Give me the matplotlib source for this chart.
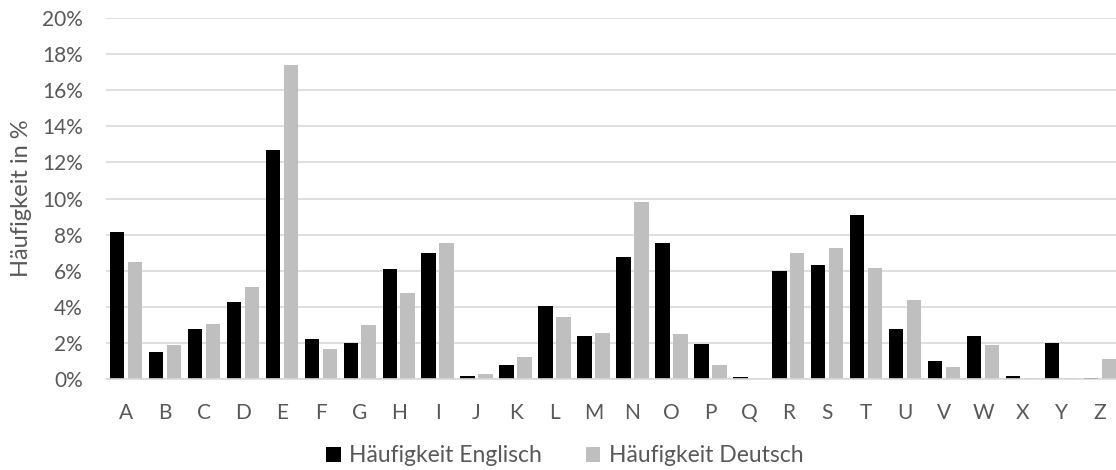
import matplotlib
matplotlib.use("Agg")
import matplotlib.pyplot as plt
import numpy as np
from matplotlib.ticker import FuncFormatter
from matplotlib.patches import Patch

plt.rcParams['font.family'] = ['Lato', 'DejaVu Sans']

letters = list("ABCDEFGHIJKLMNOPQRSTUVWXYZ")
english = [8.17, 1.49, 2.78, 4.25, 12.70, 2.23, 2.02, 6.09, 6.97, 0.15, 0.77, 4.03, 2.41,
           6.75, 7.51, 1.93, 0.10, 5.99, 6.33, 9.06, 2.76, 0.98, 2.36, 0.15, 1.97, 0.07]
german = [6.51, 1.89, 3.06, 5.08, 17.40, 1.66, 3.01, 4.76, 7.55, 0.27, 1.21, 3.44, 2.53,
          9.78, 2.51, 0.79, 0.02, 7.00, 7.27, 6.15, 4.35, 0.67, 1.89, 0.03, 0.04, 1.13]
series_names = ["Häufigkeit Englisch", "Häufigkeit Deutsch"]
y_ticks = [0, 2, 4, 6, 8, 10, 12, 14, 16, 18, 20]

text_color = "#595959"
grid_color = "#d9d9d9"
colors = ["#000000", "#bfbfbf"]

fig = plt.figure(figsize=(11.16, 4.70), dpi=100)
ax = fig.add_axes([0.0954, 0.1936, 0.9077, 0.7681])

x = np.arange(len(letters))
w = 0.37
off = 0.23
ax.bar(x - off, english, width=w, color=colors[0], zorder=3)
ax.bar(x + off, german, width=w, color=colors[1], zorder=3)

ax.set_xlim(-0.5, len(letters) - 0.5)
ax.set_ylim(0, 20)
ax.set_yticks(y_ticks)
ax.yaxis.set_major_formatter(FuncFormatter(lambda v, p: f"{v:.0f}%"))
ax.set_xticks(x)
ax.set_xticklabels(letters)

ax.grid(axis="y", color=grid_color, linewidth=1.2, zorder=0)
for s in ["top", "right", "left"]:
    ax.spines[s].set_visible(False)
ax.spines["bottom"].set_color(grid_color)
ax.spines["bottom"].set_linewidth(1.2)
ax.spines["bottom"].set_zorder(4)

ax.tick_params(axis="both", length=0, labelsize=15, labelcolor=text_color)
ax.tick_params(axis="x", pad=17)
ax.tick_params(axis="y", pad=17)

ax.set_ylabel("Häufigkeit in %", fontsize=17, color=text_color, labelpad=7)

handles = [Patch(facecolor=c, edgecolor="none") for c in colors]
fig.legend(handles, series_names, loc="center", bbox_to_anchor=(0.506, 0.03),
           ncol=2, frameon=False, fontsize=16.5, labelcolor=text_color,
           handlelength=0.65, handleheight=0.65, handletextpad=0.35, columnspacing=1.9)

fig.savefig("out.png", dpi=100)
